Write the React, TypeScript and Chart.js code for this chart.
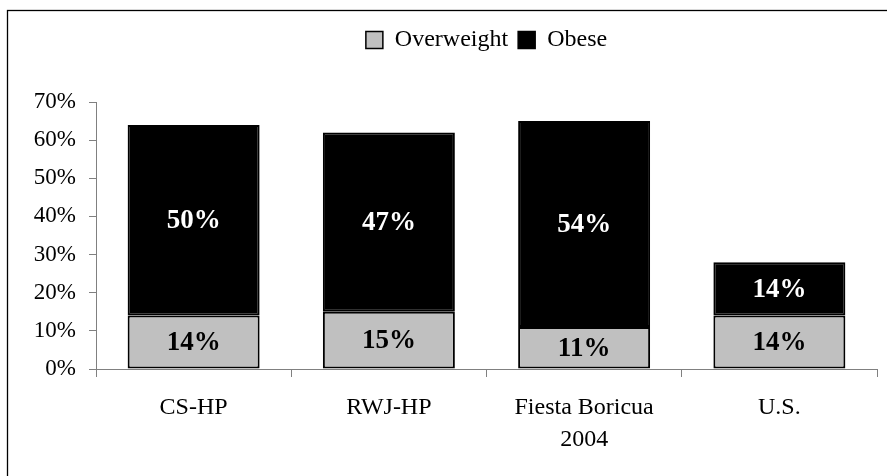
import React, { useEffect, useRef } from "react";
import { Chart, registerables } from "chart.js";

Chart.register(...registerables);

const categories: (string | string[])[] = ["CS-HP", "RWJ-HP", ["Fiesta Boricua", "2004"], "U.S."];
const overweight = [14, 15, 11, 14];
const obese = [50, 47, 54, 14];
const seriesNames = ["Overweight", "Obese"];
const yTicks = [0, 10, 20, 30, 40, 50, 60, 70];

const FONT = "'Liberation Serif', 'Times New Roman', serif";

const frame = {
  id: "frame",
  beforeDraw(chart: any) {
    const ctx = chart.ctx;
    ctx.save();
    ctx.fillStyle = "#ffffff";
    ctx.fillRect(0, 0, chart.width, chart.height);
    ctx.strokeStyle = "#000000";
    ctx.lineWidth = 1.3;
    ctx.strokeRect(7.5, 10.5, 1000, 1000);
    ctx.restore();
  },
};

const legendSpace = {
  id: "legendSpace",
  beforeInit(chart: any) {
    const lg = chart.legend;
    if (lg && !lg.__patched) {
      const orig = lg.fit;
      lg.fit = function () {
        orig.call(this);
        this.height += 40;
      };
      lg.__patched = true;
    }
  },
};

const barLabels = {
  id: "barLabels",
  afterDatasetsDraw(chart: any) {
    const ctx = chart.ctx;
    ctx.save();
    ctx.font = `bold 27px ${FONT}`;
    ctx.textAlign = "center";
    ctx.textBaseline = "middle";
    chart.data.datasets.forEach((ds: any, di: number) => {
      const meta = chart.getDatasetMeta(di);
      meta.data.forEach((el: any, i: number) => {
        const v = ds.data[i];
        ctx.fillStyle = di === 0 ? "#000000" : "#ffffff";
        ctx.fillText(`${v}%`, el.x, (el.y + el.base) / 2 + 1);
      });
    });
    ctx.restore();
  },
};

export default function App() {
  const ref = useRef<HTMLCanvasElement>(null);
  useEffect(() => {
    if (!ref.current) return;
    const chart = new Chart(ref.current, {
      type: "bar",
      data: {
        labels: categories,
        datasets: [
          {
            label: seriesNames[0],
            data: overweight,
            backgroundColor: "#c0c0c0",
            borderColor: "#000000",
            borderWidth: 2,
            borderSkipped: false,
          },
          {
            label: seriesNames[1],
            data: obese,
            backgroundColor: "#000000",
            borderColor: "#000000",
            borderWidth: 2,
            borderSkipped: false,
          },
        ],
      },
      options: {
        responsive: false,
        animation: false,
        datasets: { bar: { categoryPercentage: 1, barPercentage: 0.676 } },
        layout: { padding: { top: 18, left: 0, right: 10, bottom: 0 } },
        plugins: {
          tooltip: { enabled: false },
          legend: {
            position: "top",
            fullSize: false,
            labels: {
              color: "#000000",
              boxWidth: 17,
              boxHeight: 17,
              padding: 10,
              font: { family: FONT, size: 24 },
              generateLabels: (chart: any) =>
                chart.data.datasets.map((ds: any, i: number) => ({
                  text: ds.label,
                  fillStyle: ds.backgroundColor,
                  strokeStyle: "#000000",
                  lineWidth: 1.5,
                  datasetIndex: i,
                  hidden: false,
                })),
            },
          },
        },
        scales: {
          x: {
            stacked: true,
            grid: {
              offset: true,
              drawOnChartArea: false,
              drawTicks: true,
              tickLength: 8,
              color: "#808080",
            },
            border: { color: "#808080", width: 1 },
            ticks: {
              color: "#000000",
              padding: 15,
              maxRotation: 0,
              font: { family: FONT, size: 24, lineHeight: 1.33 },
            },
            afterFit: (scale: any) => {
              scale.height = 107;
            },
          },
          y: {
            stacked: true,
            min: 0,
            max: 70,
            afterBuildTicks: (scale: any) => {
              scale.ticks = yTicks.map((v) => ({ value: v }));
            },
            grid: {
              drawOnChartArea: false,
              drawTicks: true,
              tickLength: 7,
              color: "#808080",
            },
            border: { color: "#808080", width: 1 },
            ticks: {
              color: "#000000",
              padding: 13,
              font: { family: FONT, size: 23 },
              callback: (v: any) => `${v}%`,
            },
            afterFit: (scale: any) => {
              scale.width = 96;
            },
          },
        },
      },
      plugins: [frame, legendSpace, barLabels],
    });
    return () => chart.destroy();
  }, []);
  return (
    <div style={{ position: "absolute", left: 0, top: 0, width: 887, height: 476, background: "#fff" }}>
      <canvas ref={ref} width={887} height={476} style={{ display: "block" }} />
    </div>
  );
}
